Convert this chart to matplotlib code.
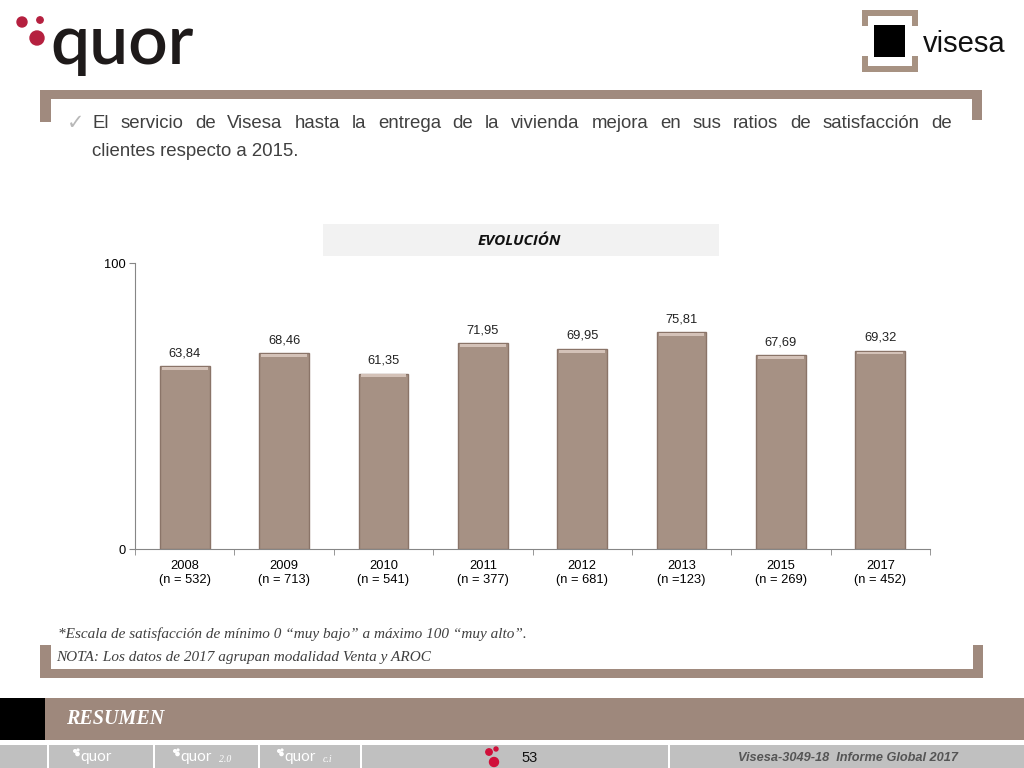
import matplotlib.pyplot as plt
from matplotlib.patches import Rectangle, Ellipse

years = ["2008", "2009", "2010", "2011", "2012", "2013", "2015", "2017"]
sizes = ["(n = 532)", "(n = 713)", "(n = 541)", "(n = 377)", "(n = 681)",
         "(n =123)", "(n = 269)", "(n = 452)"]
scores = [63.84, 68.46, 61.35, 71.95, 69.95, 75.81, 67.69, 69.32]

W, H = 1024, 768
BROWN = "#A08A7E"
BAR = "#A69184"

fig = plt.figure(figsize=(W / 100, H / 100), dpi=100)


def px(x, y):
    # pixel (top-left origin) -> figure fraction
    return x / W, 1 - y / H


def box(x0, y0, x1, y1, color, z=0):
    fig.patches.append(Rectangle(px(x0, y1), (x1 - x0) / W, (y1 - y0) / H,
                                 transform=fig.transFigure, color=color,
                                 zorder=z, lw=0))


def dot(cx, cy, r, color):
    fig.patches.append(Ellipse(px(cx, cy), 2 * r / W, 2 * r / H,
                               transform=fig.transFigure, color=color, zorder=2))


def txt(x, y, s, **kw):
    return fig.text(*px(x, y), s, **kw)


# --- logos ---
for cx, cy, r in [(22, 22, 5), (40, 20, 3.2), (37, 38, 7)]:
    dot(cx, cy, r, "#B5203F")
txt(50, 45, "quor", fontsize=50, family="Lato", weight="semibold",
    color="#1E1A1A", va="center", ha="left")

# visesa logo
LB = "#A79282"
box(862, 10, 918, 16, LB)
box(862, 10, 868, 26, LB)
box(912, 10, 918, 26, LB)
box(862, 66, 918, 72, LB)
box(862, 56, 868, 72, LB)
box(912, 56, 918, 72, LB)
box(874, 25, 905, 57, "#000000", z=2)
txt(923, 44, "visesa", fontsize=21, family="Liberation Sans", color="#111111",
    va="center", ha="left")

# --- top frame ---
box(40, 90, 982, 99, BROWN)
box(40, 90, 51, 122, BROWN)
box(972, 90, 982, 120, BROWN)

# headline, first line justified
line1 = "El servicio de Visesa hasta la entrega de la vivienda mejora en sus ratios de satisfacción de".split()
hfont = dict(fontsize=13.4, family="Liberation Sans", color="#404040", va="center")
txt(67, 123, "\u2713", fontsize=15, family="DejaVu Sans", color="#B8B8B8", va="center")
fig.canvas.draw()
rend = fig.canvas.get_renderer()
objs = [txt(92, 123, w, **hfont) for w in line1]
widths = [o.get_window_extent(rend).width for o in objs]
gap = (952 - 92 - sum(widths)) / (len(objs) - 1)
x = 92
for o, w in zip(objs, widths):
    o.set_position(px(x, 123))
    x += w + gap
txt(92, 151, "clientes respecto a 2015.", **hfont)

# chart title box
box(323, 224, 719, 256, "#F2F2F2")
txt(519, 241, "EVOLUCIÓN", fontsize=11, family="Open Sans", weight="bold",
    style="italic", color="#111111", ha="center", va="center")

# --- bar chart ---
ax = fig.add_axes([135 / W, 1 - 549 / H, 795 / W, 286 / H])
xs = range(len(years))
bars = ax.bar(xs, scores, width=0.5, color=BAR, edgecolor="#8A7468",
              linewidth=1.0, zorder=2)
for b, v in zip(bars, scores):
    ax.annotate(f"{v:.2f}".replace(".", ","), (b.get_x() + b.get_width() / 2, v),
                xytext=(0, 5), textcoords="offset points", ha="center",
                va="bottom", fontsize=9.3, family="Liberation Sans",
                color="#222222")
    # light bevel at the top of the bar
    ax.add_patch(Rectangle((b.get_x() + 0.02, v - 1.3), b.get_width() - 0.04, 1.0,
                           color="#D4C2B8", lw=0, zorder=3))

ax.set_xlim(-0.5, len(years) - 0.5)
ax.set_ylim(0, 100)
ax.set_yticks([0, 100])
ax.set_yticklabels(["0", "100"], fontsize=9.3, family="Liberation Sans")
ax.set_xticks(list(xs))
ax.set_xticklabels([f"{y}\n{n}" for y, n in zip(years, sizes)], fontsize=9.3,
                   family="Liberation Sans", linespacing=1.25)
ax.set_xticks([i - 0.5 for i in range(len(years) + 1)], minor=True)
ax.tick_params(axis="x", which="major", length=0, pad=8)
ax.tick_params(axis="x", which="minor", length=4, color="#868686")
ax.tick_params(axis="y", length=4, color="#868686", pad=3)
for s in ["top", "right"]:
    ax.spines[s].set_visible(False)
for s in ["left", "bottom"]:
    ax.spines[s].set_color("#868686")

# --- notes & bottom frame ---
nfont = dict(fontsize=11, family="Liberation Serif", style="italic",
             color="#3F3F3F", va="center")
txt(58, 634, "*Escala de satisfacción de mínimo 0 \u201cmuy bajo\u201d a máximo 100 \u201cmuy alto\u201d.", **nfont)
txt(56, 657, "NOTA: Los datos de 2017 agrupan modalidad Venta y AROC", **nfont)
box(40, 645, 51, 678, BROWN)
box(40, 669, 983, 678, BROWN)
box(973, 645, 983, 678, BROWN)

# RESUMEN band
box(0, 698, 45, 740, "#000000")
box(45, 698, W, 740, "#9E887C")
txt(66, 719, "RESUMEN", fontsize=14.5, family="Liberation Serif", weight="bold",
    style="italic", color="white", va="center")

# footer
box(0, 745, W, 768, "#C0C0C0")
for sx in [47, 153, 258, 360, 668]:
    box(sx, 745, sx + 1.5, 768, "white", z=1)
for x0, lab in [(80, "quor"), (180, "quor"), (284, "quor")]:
    txt(x0, 757, lab, fontsize=11, family="Lato", color="white", va="center")
    dot(x0 - 5, 751, 1.3, "white")
    dot(x0 - 2, 750, 0.9, "white")
    dot(x0 - 2.5, 754, 1.6, "white")
txt(219, 760, "2.0", fontsize=7, family="Liberation Serif", style="italic",
    color="white", va="center")
txt(323, 760, "c.i", fontsize=7, family="Liberation Serif", style="italic",
    color="white", va="center")
for cx, cy, r in [(489, 752, 3.2), (496, 749, 2), (494, 762, 4.5)]:
    dot(cx, cy, r, "#D0103A")
txt(530, 758, "53", fontsize=10.5, family="Liberation Sans", color="#111111",
    ha="center", va="center")
txt(958, 758, "Visesa-3049-18  Informe Global 2017", fontsize=9.2,
    family="Liberation Sans", style="italic", weight="bold", color="#555555",
    ha="right", va="center")

fig.savefig("out.png", dpi=100)
